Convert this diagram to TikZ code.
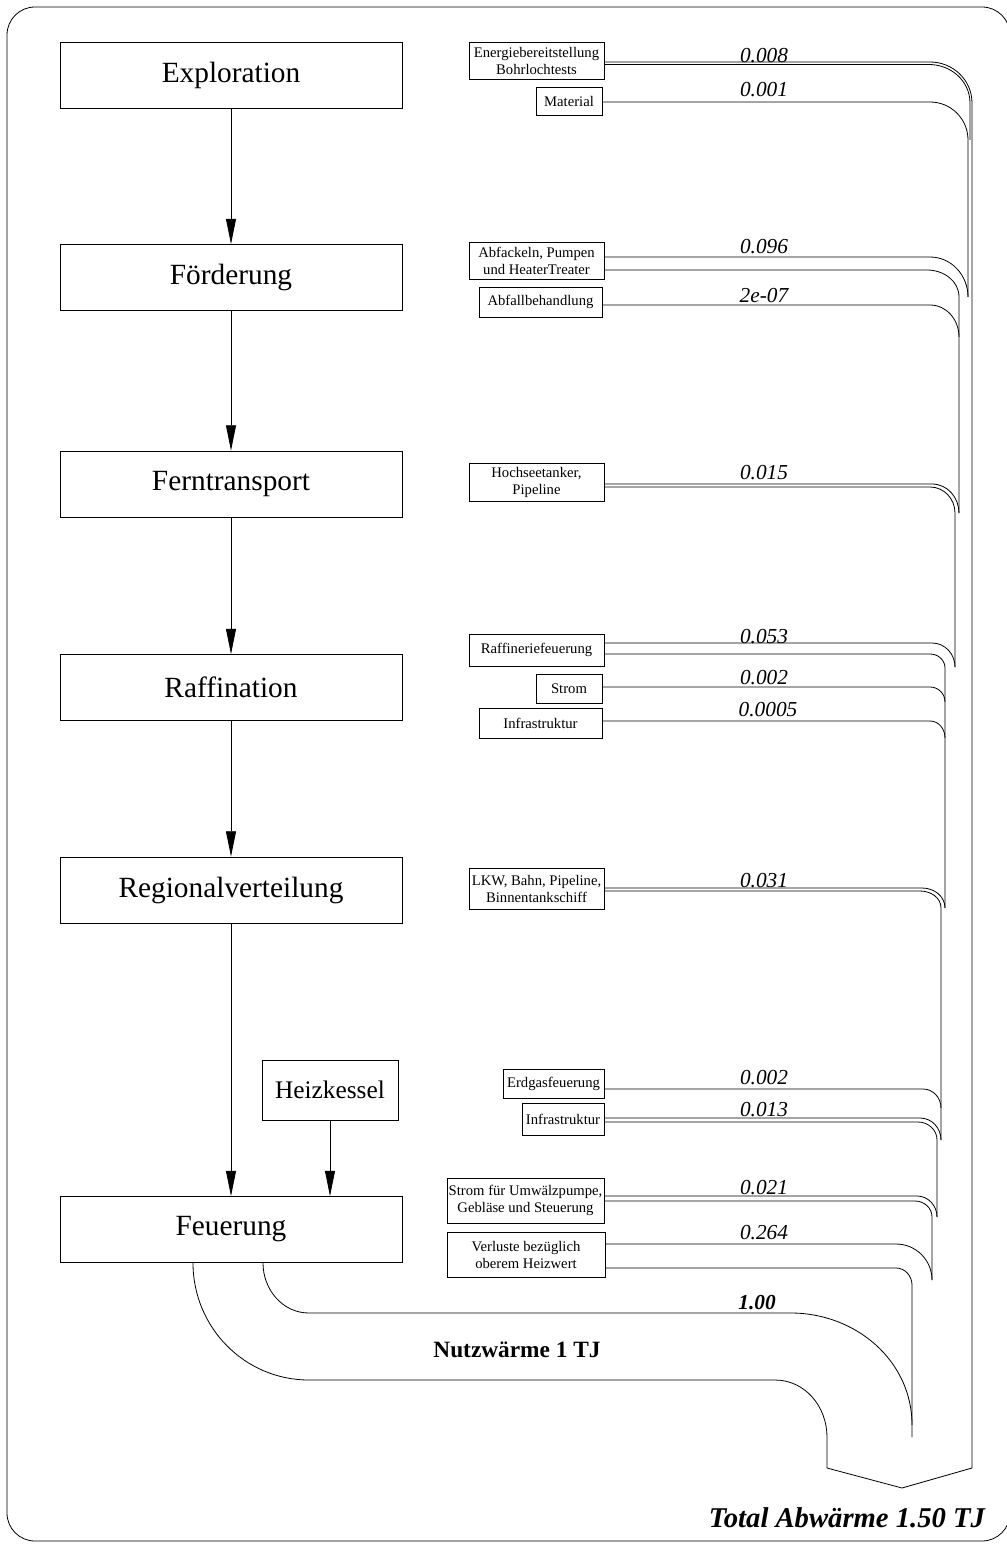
\documentclass[tikz,border=0pt]{standalone}
\usepackage{fontspec}
\setmainfont{Liberation Serif}
\usetikzlibrary{arrows.meta}

\begin{document}
\begin{tikzpicture}[x=0.75pt,y=-0.75pt,line width=0.6pt,
  stage/.style={draw,minimum width=256.5pt,minimum height=49.5pt,inner sep=0pt,
    font=\fontsize{22}{26}\selectfont},
  source/.style={draw,align=center,inner sep=1pt,font=\fontsize{11}{12.75}\selectfont},
  amount/.style={anchor=base,font=\fontsize{16}{16}\selectfont\itshape},
  flow/.style={-{Triangle[length=19pt,width=7.5pt]}}]
  \useasboundingbox (0,0) rectangle (1006,1544);
  \draw[rounded corners=21pt] (7,7) rectangle (1010,1541);

  \node[stage] (expl) at (231,75) {Exploration};
  \node[stage] (foerd) at (231,277.5) {Förderung};
  \node[stage] (fernt) at (231,484) {Ferntransport};
  \node[stage] (raff) at (231,687.5) {Raffination};
  \node[stage] (regio) at (231,890) {Regionalverteilung};
  \node[stage] (feu) at (231,1229.5) {Feuerung};
  \node[draw,minimum width=102pt,minimum height=45pt,inner sep=0pt,
    font=\fontsize{19}{22}\selectfont] (heiz) at (330,1090) {Heizkessel};
  \draw[flow] (expl) -- (foerd);
  \draw[flow] (foerd) -- (fernt);
  \draw[flow] (fernt) -- (raff);
  \draw[flow] (raff) -- (regio);
  \draw[flow] (regio) -- (feu);
  \draw[flow] (heiz) -- (heiz |- feu.north);

  \node[source,minimum width=101.25pt,minimum height=27.75pt] (energie) at (536.5,60.5)
    {Energiebereitstellung\\Bohrlochtests};
  \node[source,minimum width=49.5pt,minimum height=21pt] (material) at (569,101) {Material};
  \node[source,minimum width=101.25pt,minimum height=27.75pt] (abfackeln) at (536.5,260.5)
    {Abfackeln, Pumpen\\und HeaterTreater};
  \node[source,minimum width=92.25pt,minimum height=22.5pt] (abfall) at (540.5,302) {Abfallbehandlung};
  \node[source,minimum width=101.25pt,minimum height=28.5pt] (tanker) at (536.5,482)
    {Hochseetanker,\\Pipeline};
  \node[source,minimum width=101.25pt,minimum height=24pt] (rafffeuer) at (536.5,650) {Raffineriefeuerung};
  \node[source,minimum width=49.5pt,minimum height=21.75pt] (strom) at (569,688.5) {Strom};
  \node[source,minimum width=92.25pt,minimum height=22.5pt] (infraraff) at (540.5,723) {Infrastruktur};
  \node[source,minimum width=101.25pt,minimum height=30.75pt] (lkw) at (536.5,888.5)
    {LKW, Bahn, Pipeline,\\Binnentankschiff};
  \node[source,minimum width=75.75pt,minimum height=21.75pt] (erdgas) at (553.5,1083.5) {Erdgasfeuerung};
  \node[source,minimum width=61.5pt,minimum height=24pt] (infraheiz) at (563,1119) {Infrastruktur};
  \node[source,minimum width=117.75pt,minimum height=33.75pt] (umwaelz) at (525.5,1200.5)
    {Strom für Umwälzpumpe,\\Gebläse und Steuerung};
  \node[source,minimum width=118.5pt,minimum height=33.75pt] (verluste) at (526,1254.5)
    {Verluste bezüglich\\oberem Heizwert};

  \draw (energie.east |- 0,62) -- (930,62) to[out=0,in=90] (972,103) -- (972,1468)
    -- (902,1488) -- (827,1468) -- (827,1437) to[out=90,in=0] (775,1380) -- (309,1380)
    to[out=180,in=-90] (feu.south -| 193,0);
  \draw (energie.east |- 0,64.5) -- (929,64.5) to[out=0,in=90] (970,103) -- (970,140);
  \draw (material.east |- 0,102) -- (930,102) to[out=0,in=90] (968,140) -- (968,297);
  \draw (abfackeln.east |- 0,257) -- (930,257) to[out=0,in=90] (968,297);
  \draw (abfackeln.east |- 0,270) -- (927,270) to[out=0,in=90] (959,297) -- (959,513);
  \draw (abfall.east |- 0,305) -- (930,305) to[out=0,in=90] (959,337);
  \draw (tanker.east |- 0,484) -- (932,484) to[out=0,in=90] (959,513);
  \draw (tanker.east |- 0,487) -- (930,487) to[out=0,in=90] (955,513) -- (955,667);
  \draw (rafffeuer.east |- 0,643) -- (932,643) to[out=0,in=90] (955,667);
  \draw (rafffeuer.east |- 0,654) -- (930,654) to[out=0,in=90] (945,668) -- (945,908);
  \draw (strom.east |- 0,687) -- (930,687) to[out=0,in=90] (945,702);
  \draw (infraraff.east |- 0,721) -- (930,721) to[out=0,in=90] (945,738);
  \draw (lkw.east |- 0,888) -- (922,888) to[out=0,in=90] (945,908);
  \draw (lkw.east |- 0,891) -- (920,891) to[out=0,in=90] (941,908) -- (941,1140);
  \draw (erdgas.east |- 0,1089) -- (923,1089) to[out=0,in=90] (941,1108);
  \draw (infraheiz.east |- 0,1118) -- (920,1118) to[out=0,in=90] (941,1140);
  \draw (infraheiz.east |- 0,1122) -- (918,1122) to[out=0,in=90] (937,1140) -- (937,1217);
  \draw (umwaelz.east |- 0,1196) -- (917,1196) to[out=0,in=90] (937,1217);
  \draw (umwaelz.east |- 0,1201) -- (915,1201) to[out=0,in=90] (932,1217) -- (932,1280);
  \draw (verluste.east |- 0,1244) -- (896,1244) to[out=0,in=90] (932,1280);
  \draw (verluste.east |- 0,1268) -- (896,1268) to[out=0,in=90] (912,1285) -- (912,1437);
  \draw (feu.south -| 263,0) to[out=-90,in=180] (309,1313) -- (791,1313)
    to[out=0,in=90] (912,1425);

  \node[amount] (w1) at (764,63) {0.008};
  \node[amount] (w2) at (764,97) {0.001};
  \node[amount] (w3) at (764,254) {0.096};
  \node[amount] (w4) at (764,303) {2e-07};
  \node[amount] (w5) at (764,479) {0.015};
  \node[amount] (w6) at (764,643) {0.053};
  \node[amount] (w7) at (764,684) {0.002};
  \node[amount] (w8) at (768,716) {0.0005};
  \node[amount] (w9) at (764,887) {0.031};
  \node[amount] (w10) at (764,1084) {0.002};
  \node[amount] (w11) at (764,1116) {0.013};
  \node[amount] (w12) at (764,1194) {0.021};
  \node[amount] (w13) at (764,1239) {0.264};
  \node[amount,font=\fontsize{16}{16}\selectfont\bfseries\itshape] (w14) at (757,1309) {1.00};
  \node[font=\fontsize{17.5}{20}\selectfont\bfseries] (nutz) at (517,1350) {Nutzwärme 1 TJ};
  \node[anchor=base,font=\fontsize{21.5}{24}\selectfont\bfseries\itshape] (total) at (847,1527)
    {Total Abwärme 1.50 TJ};
\end{tikzpicture}
\end{document}
